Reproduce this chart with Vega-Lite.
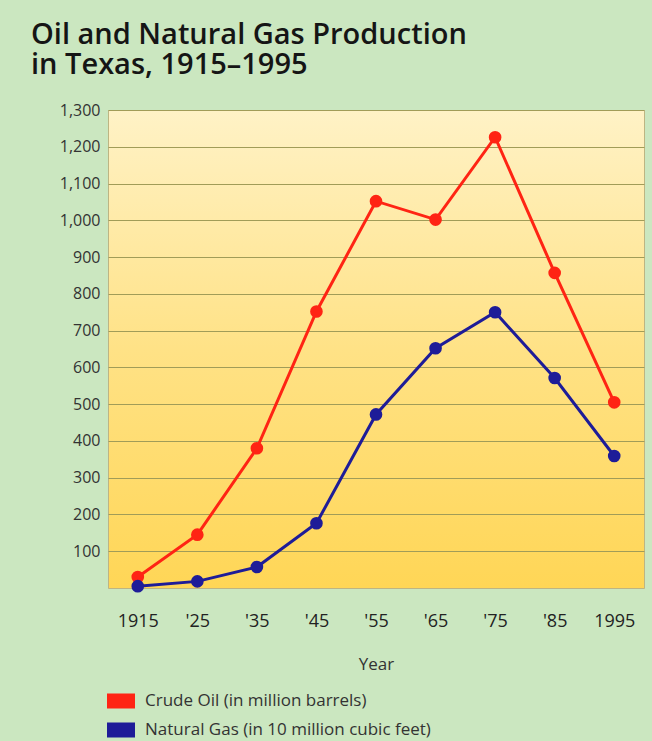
{
  "$schema": "https://vega.github.io/schema/vega-lite/v6.json",
  "width": 536,
  "height": 478,
  "autosize": {"type": "none"},
  "padding": {"left": 108, "top": 110, "right": 8, "bottom": 153},
  "background": "#cbe7c0",
  "title": {
    "text": ["Oil and Natural Gas Production", "in Texas, 1915–1995"],
    "anchor": "start",
    "frame": "group",
    "font": "Open Sans",
    "fontSize": 29,
    "fontWeight": 600,
    "color": "#151515",
    "lineHeight": 30,
    "baseline": "alphabetic",
    "dx": -77,
    "offset": -1
  },
  "view": {
    "fill": {
      "gradient": "linear",
      "x1": 0, "y1": 0, "x2": 0, "y2": 1,
      "stops": [
        {"offset": 0, "color": "#fff2c6"},
        {"offset": 0.5, "color": "#ffe286"},
        {"offset": 1, "color": "#ffd656"}
      ]
    },
    "stroke": "#bdb583",
    "strokeWidth": 1
  },
  "data": {
    "values": [
      {"year": 1915, "series": "Crude Oil (in million barrels)", "value": 30},
      {"year": 1925, "series": "Crude Oil (in million barrels)", "value": 145},
      {"year": 1935, "series": "Crude Oil (in million barrels)", "value": 380},
      {"year": 1945, "series": "Crude Oil (in million barrels)", "value": 752},
      {"year": 1955, "series": "Crude Oil (in million barrels)", "value": 1052},
      {"year": 1965, "series": "Crude Oil (in million barrels)", "value": 1002},
      {"year": 1975, "series": "Crude Oil (in million barrels)", "value": 1226},
      {"year": 1985, "series": "Crude Oil (in million barrels)", "value": 857},
      {"year": 1995, "series": "Crude Oil (in million barrels)", "value": 505},
      {"year": 1915, "series": "Natural Gas (in 10 million cubic feet)", "value": 5},
      {"year": 1925, "series": "Natural Gas (in 10 million cubic feet)", "value": 18},
      {"year": 1935, "series": "Natural Gas (in 10 million cubic feet)", "value": 57},
      {"year": 1945, "series": "Natural Gas (in 10 million cubic feet)", "value": 176},
      {"year": 1955, "series": "Natural Gas (in 10 million cubic feet)", "value": 472},
      {"year": 1965, "series": "Natural Gas (in 10 million cubic feet)", "value": 652},
      {"year": 1975, "series": "Natural Gas (in 10 million cubic feet)", "value": 750},
      {"year": 1985, "series": "Natural Gas (in 10 million cubic feet)", "value": 571},
      {"year": 1995, "series": "Natural Gas (in 10 million cubic feet)", "value": 359}
    ]
  },
  "encoding": {
    "x": {
      "field": "year",
      "type": "quantitative",
      "scale": {"domain": [1910, 2000], "nice": false, "zero": false},
      "axis": {
        "title": "Year",
        "values": [1915, 1925, 1935, 1945, 1955, 1965, 1975, 1985, 1995],
        "labelExpr": "datum.value == 1915 || datum.value == 1995 ? toString(datum.value) : \"'\" + substring(toString(datum.value), 2, 4)",
        "grid": false,
        "ticks": false,
        "domain": false,
        "labelFont": "Open Sans",
        "labelFontSize": 18,
        "labelFontWeight": 500,
        "labelColor": "#222222",
        "labelPadding": 24,
        "titleFont": "Open Sans",
        "titleFontSize": 17,
        "titleFontWeight": 500,
        "titleColor": "#333333",
        "titlePadding": 26
      }
    },
    "y": {
      "field": "value",
      "type": "quantitative",
      "scale": {"domain": [0, 1300], "nice": false},
      "axis": {
        "title": null,
        "values": [100, 200, 300, 400, 500, 600, 700, 800, 900, 1000, 1100, 1200, 1300],
        "format": ",d",
        "grid": true,
        "gridColor": "#a19c58",
        "gridWidth": 1.2,
        "ticks": false,
        "domain": false,
        "labelFont": "Open Sans",
        "labelFontSize": 16,
        "labelColor": "#333333",
        "labelPadding": 8
      }
    },
    "color": {
      "field": "series",
      "type": "nominal",
      "scale": {
        "domain": ["Crude Oil (in million barrels)", "Natural Gas (in 10 million cubic feet)"],
        "range": ["#ff2414", "#1e1c98"]
      },
      "legend": {
        "orient": "none",
        "legendX": -1,
        "legendY": 577,
        "title": null,
        "direction": "vertical",
        "symbolType": "M-1,-0.536h2v1.072h-2z",
        "symbolSize": 784,
        "labelFont": "Open Sans",
        "labelFontSize": 17,
        "labelColor": "#333333",
        "labelOffset": 10,
        "rowPadding": 7,
        "labelLimit": 400,
        "encode": {
          "symbols": {
            "update": {
              "fill": {"scale": "color", "field": "value"},
              "fillOpacity": {"value": 1},
              "strokeWidth": {"value": 0}
            }
          }
        }
      }
    }
  },
  "layer": [
    {
      "mark": {"type": "line", "strokeWidth": 3}
    },
    {
      "mark": {"type": "circle", "size": 160, "opacity": 1}
    }
  ]
}
